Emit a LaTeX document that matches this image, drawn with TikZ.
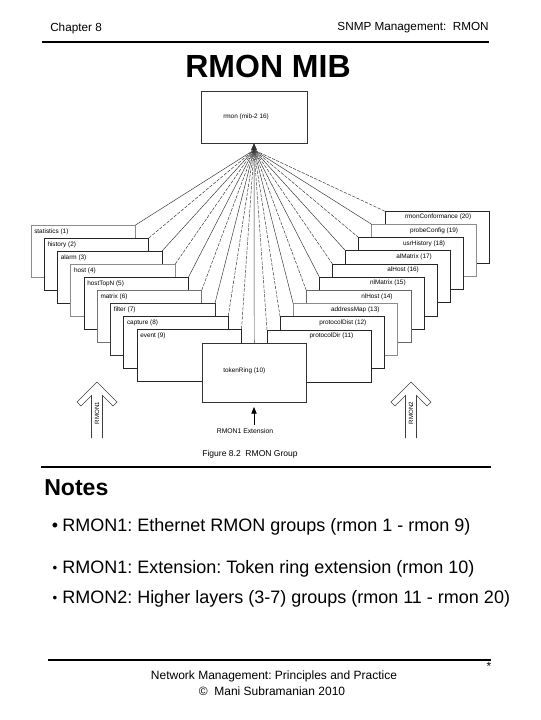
\documentclass[tikz,border=0pt]{standalone}
\usepackage{fontspec}
\setmainfont{Liberation Sans}
\usetikzlibrary{arrows.meta}
\newcommand\myfs[1]{\fontsize{#1pt}{#1pt}\selectfont}
\frenchspacing
\begin{document}
\begin{tikzpicture}[x=0.75pt,y=-0.75pt,
  mibbox/.style={draw=black!80, fill=white, line width=0.5pt, inner sep=0pt, outer sep=0pt,
    minimum width=78.4pt, minimum height=39pt, anchor=north west},
  boxlbl/.style={inner sep=0pt, font=\myfs{4.8}},
  fan/.style={line width=0.35pt, draw=black!80},
  fandash/.style={fan, dash pattern=on 2.5pt off 1pt},
  rule/.style={line width=1.5pt},
  bigarrow/.style={line width=0.5pt, draw=black!75},
  txt/.style={inner sep=0pt}]
\useasboundingbox (0,0) rectangle (540,720);

% header
\node[txt, anchor=west, font=\myfs{8.8}] (chap) at (50,28) {Chapter 8};
\node[txt, anchor=east, font=\myfs{8.8}] (snmp) at (489,28) {SNMP Management:\ \ RMON};
\draw[rule] (42,42) -- (489,42);
\node[txt, font=\bfseries\myfs{24}] (title) at (268,66) {RMON MIB};

% top box
\node[mibbox, minimum width=79.5pt] (rmon) at (201,91) {};
\node[boxlbl, anchor=west] (rmonlbl) at (223,117) {rmon (mib-2 16)};
\coordinate (conv) at (254,150);

% left stair (rmon 1 - 9)
\foreach \i/\t/\c in {1/statistics (1)/black!45, 2/history (2)/black!85, 3/alarm (3)/black!85,
  4/host (4)/black!45, 5/hostTopN (5)/black!85, 6/matrix (6)/black!55, 7/filter (7)/black!80,
  8/capture (8)/black!85, 9/event (9)/black!85}{
  \pgfmathsetmacro\xl{31+13.25*(\i-1)}
  \pgfmathsetmacro\yt{225+13*(\i-1)}
  \node[mibbox, draw=\c] (L\i) at (\xl,\yt) {};
  \node[boxlbl, anchor=west] (LT\i) at ([xshift=2.25pt,yshift=-4.9pt]L\i.north west) {\t};
}

% right stair (rmon 11 - 20)
\foreach \j/\t/\c in {20/rmonConformance (20)/black!85, 19/probeConfig (19)/black!45,
  18/usrHistory (18)/black!85, 17/alMatrix (17)/black!85, 16/alHost (16)/black!85,
  15/nlMatrix (15)/black!85, 14/nlHost (14)/black!60, 13/addressMap (13)/black!45,
  12/protocolDist (12)/black!85, 11/protocolDir (11)/black!85}{
  \pgfmathsetmacro\xl{267+13.1*(\j-11)}
  \pgfmathsetmacro\yt{330-13.2*(\j-11)}
  \node[mibbox, draw=\c] (R\j) at (\xl,\yt) {};
  \node[boxlbl, anchor=east] (RT\j) at ([xshift=-13.5pt,yshift=-4.6pt]R\j.north east) {\t};
}

% token ring (rmon 10)
\node[mibbox, minimum height=44.25pt] (tok) at (202,343) {};
\node[boxlbl, anchor=west] (toklbl) at (223,371) {tokenRing (10)};

% fan of connectors
\foreach \i in {1,3,5,7} \draw[fan] (L\i.north east) -- (conv);
\foreach \i in {2,4,6,8,9} \draw[fandash] (L\i.north east) -- (conv);
\foreach \j in {11,12,14,16,18,20} \draw[fandash] (R\j.north west) -- (conv);
\foreach \j in {13,15,17,19} \draw[fan] (R\j.north west) -- (conv);
\draw[fan] (tok.north) -- (conv);
\draw[fan, -{Triangle[length=5.5pt,width=4.5pt]}] (conv) -- (rmon.south);

% RMON1 / RMON2 outline arrows
\foreach \c/\n/\s in {97/RMON1/a1, 411/RMON2/a2}{
  \draw[bigarrow] ({\c-5.5},438) -- ({\c-5.5},395.5) -- ({\c-16},406) -- ({\c-20},402)
    -- (\c,382) -- ({\c+20},402) -- ({\c+16},406) -- ({\c+5.5},395.5) -- ({\c+5.5},438);
  \node[txt, rotate=90, font=\myfs{4.6}] (\s) at (\c,413) {\n};
}

% RMON1 extension arrow
\node[txt, font=\myfs{5.1}] (ext) at (245,431) {RMON1 Extension};
\coordinate (extfoot) at (254,425);
\coordinate (exttip) at (254,407);
\draw[line width=0.6pt, -{Triangle[length=5pt,width=4pt]}] (extfoot) -- (exttip);

% caption
\node[txt, font=\myfs{6.4}] (cap) at (250,454) {Figure 8.2\ \ RMON Group};
\draw[line width=2pt] (41,467) -- (491,467);

% notes
\node[txt, anchor=west, font=\bfseries\myfs{17.3}] (notes) at (44,488) {Notes};
\node[txt, font=\myfs{13.5}] (b1) at (55,527) {•};
\node[txt, anchor=west, font=\myfs{13.5}] (n1) at (62,527) {RMON1: Ethernet RMON groups (rmon 1 - rmon 9)};
\node[txt, font=\myfs{10}] (b2) at (55,569) {•};
\node[txt, anchor=west, font=\myfs{13.5}] (n2) at (62,569) {RMON1: Extension: Token ring extension (rmon 10)};
\node[txt, font=\myfs{10}] (b3) at (55,599) {•};
\node[txt, anchor=west, font=\myfs{13.5}] (n3) at (62,599) {RMON2: Higher layers (3-7) groups (rmon 11 - rmon 20)};

% footer
\draw[rule] (48,660) -- (491,660);
\node[txt, font=\myfs{9}] (star) at (489,666) {*};
\node[txt, font=\myfs{9}] (foot1) at (274,676) {Network Management: Principles and Practice};
\node[txt, font=\myfs{9}] (foot2) at (272,691) {©\ \ Mani Subramanian 2010};
\end{tikzpicture}
\end{document}
